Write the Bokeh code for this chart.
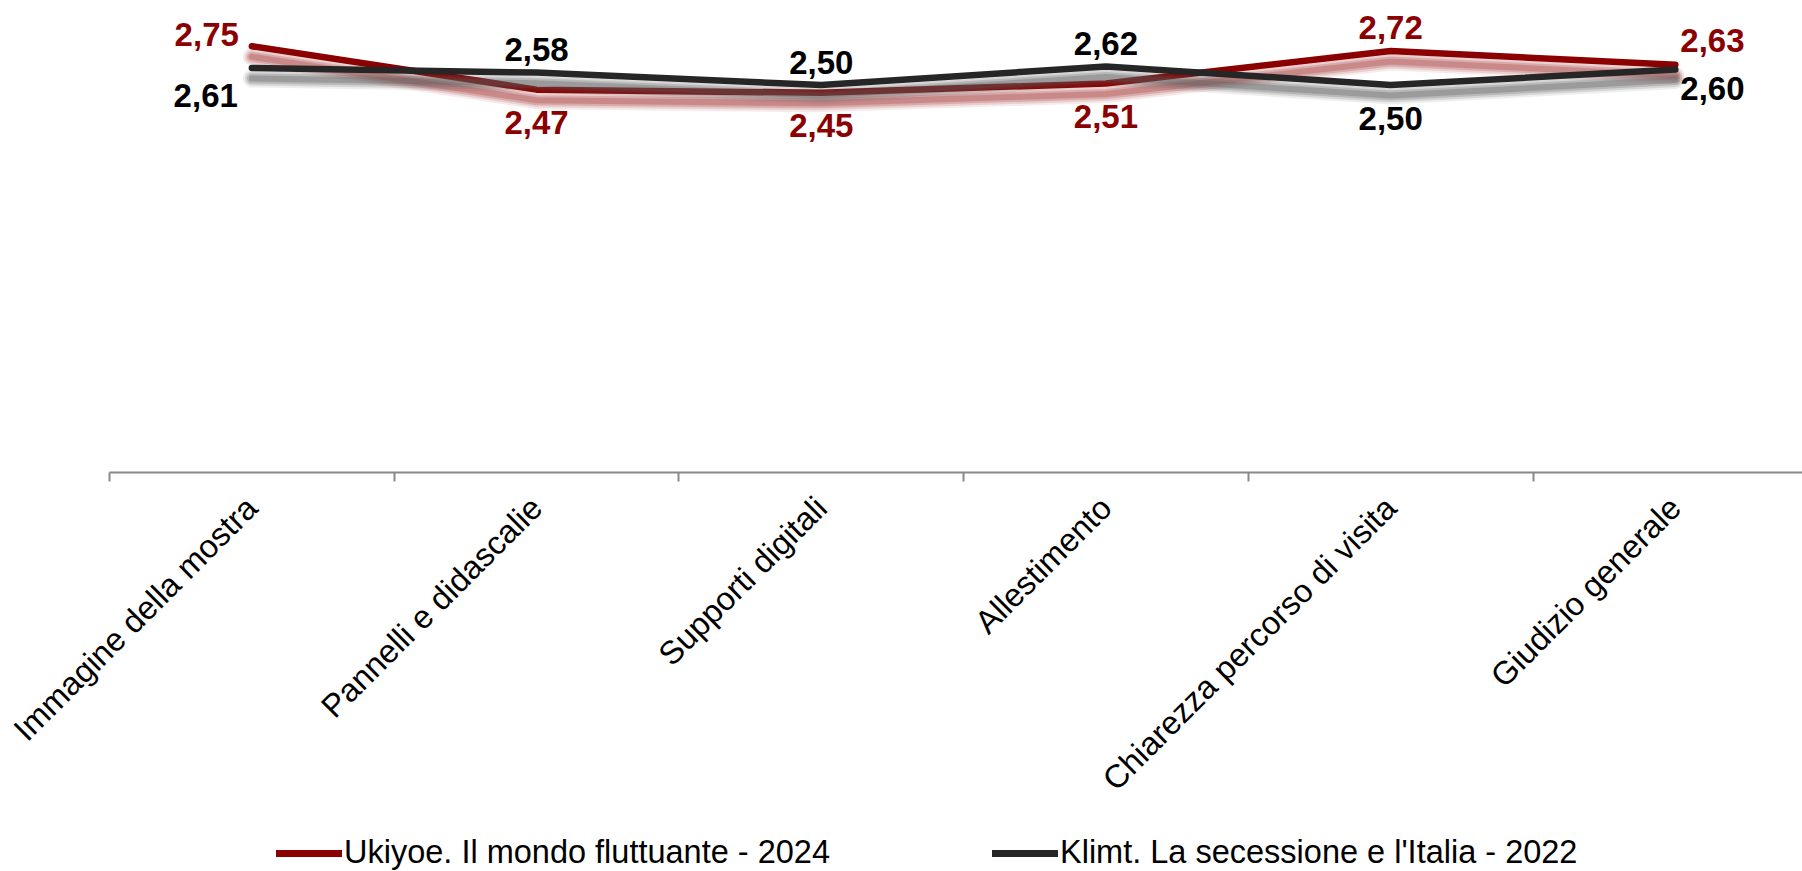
import math
import numpy as np
from bokeh.plotting import figure
from bokeh.layouts import column
from bokeh.models import Range1d, FixedTicker, ColumnDataSource, Legend, LegendItem
from bokeh.core.properties import value
from bokeh.transform import dodge
from bokeh.embed import file_html
from bokeh.resources import INLINE

# ---- data ----
categories = ["Immagine della mostra", "Pannelli e didascalie", "Supporti digitali",
              "Allestimento", "Chiarezza percorso di visita", "Giudizio generale"]
ukiyoe_2024 = [2.75, 2.47, 2.45, 2.51, 2.72, 2.63]
klimt_2022 = [2.61, 2.58, 2.50, 2.62, 2.50, 2.60]
series_names = ["Ukiyoe. Il mondo fluttuante - 2024", "Klimt. La secessione e l'Italia - 2022"]
ukiyoe_label_pos = ["left_above", "below", "below", "below", "above", "right_above"]
klimt_label_pos = ["left_below", "above", "above", "above", "below", "right_below"]

RED = "#8B0000"
DARK = "#262626"
FONT = "Liberation Sans"

# label placement styles (pixel offsets, screen y down)
POS = {
    "left_above": (-13, -12, "right"),
    "left_below": (-14, 28, "right"),
    "above": (0, -23, "center"),
    "below": (0, 33, "center"),
    "right_above": (5, -24, "left"),
    "right_below": (5, 19, "left"),
}

W, H = 1802, 871
LEG_H = 40
LEFT = 109
FRAME_H = 472
CAT_PX = 284.7
PX_PER_UNIT = 155.0
MAIN_H = H - LEG_H

xs = [i + 0.5 for i in range(len(categories))]

p = figure(width=W, height=MAIN_H,
           x_range=Range1d(0, (W - LEFT) / CAT_PX), y_range=Range1d(0, FRAME_H / PX_PER_UNIT),
           y_axis_location=None, toolbar_location=None, output_backend="svg",
           min_border_left=LEFT, min_border_right=0, min_border_top=0,
           min_border_bottom=MAIN_H - FRAME_H)
p.xgrid.visible = False
p.ygrid.visible = False
p.outline_line_color = None
p.background_fill_color = "white"
p.border_fill_color = "white"

def add_series(vals, color, shadow_color, positions, text_color):
    src = ColumnDataSource(dict(x=xs, y=vals))
    for w, a in [(18, 0.10), (14, 0.16), (10, 0.24), (6, 0.30)]:
        p.line(x="x", y=dodge("y", -0.068, range=p.y_range), source=src,
               line_color=shadow_color, line_width=w, line_alpha=a,
               line_cap="round", line_join="round")
    p.line(x="x", y="y", source=src, line_color=color, line_width=6.5,
           line_cap="round", line_join="round")
    lab = ColumnDataSource(dict(
        x=xs, y=vals,
        text=[f"{v:.2f}".replace(".", ",") for v in vals],
        xo=[POS[k][0] for k in positions],
        yo=[POS[k][1] for k in positions],
        al=[POS[k][2] for k in positions],
    ))
    p.text(x="x", y="y", text="text", source=lab, x_offset="xo", y_offset="yo",
           text_align="al", text_baseline="middle", text_color=text_color,
           text_font=value(FONT), text_font_style="bold", text_font_size="33px")

add_series(ukiyoe_2024, RED, "#a83c3c", ukiyoe_label_pos, RED)
add_series(klimt_2022, DARK, "#5a5a5a", klimt_label_pos, "black")

ax = p.xaxis[0]
ax.ticker = FixedTicker(ticks=xs, minor_ticks=list(range(len(categories))))
ax.major_label_overrides = {x: c for x, c in zip(xs, categories)}
ax.major_tick_line_color = None
ax.major_tick_out = 0
ax.major_tick_in = 0
ax.minor_tick_line_color = "#898989"
ax.minor_tick_line_width = 2
ax.minor_tick_out = 9
ax.minor_tick_in = 0
ax.axis_line_color = "#898989"
ax.axis_line_width = 2
ax.major_label_orientation = math.pi / 4
ax.major_label_standoff = 21
ax.major_label_text_font = FONT
ax.major_label_text_font_size = "32.5px"
ax.major_label_text_color = "black"

# ---- legend strip (frame aligned with the main plot) ----
lf = figure(width=W, height=LEG_H, x_range=Range1d(0, 1), y_range=Range1d(0, 1),
            x_axis_location=None, y_axis_location=None, toolbar_location=None,
            output_backend="svg", min_border=0)
lf.xgrid.visible = False
lf.ygrid.visible = False
lf.outline_line_color = None
blank = dict(x=np.array([np.nan, np.nan]), y=np.array([np.nan, np.nan]))
lr1 = lf.line(x="x", y="y", source=ColumnDataSource(blank), line_color=RED, line_width=7, line_cap="round")
lr2 = lf.line(x="x", y="y", source=ColumnDataSource(blank), line_color=DARK, line_width=7, line_cap="round")
legend = Legend(items=[LegendItem(label=series_names[0], renderers=[lr1]),
                       LegendItem(label=series_names[1], renderers=[lr2])],
                orientation="horizontal", location=(167, 0),
                glyph_width=66, glyph_height=30, label_standoff=2, spacing=162,
                padding=0, margin=0, border_line_color=None, background_fill_alpha=0,
                label_text_font=FONT, label_text_font_size="32.5px", label_text_color="black")
lf.add_layout(legend)

open("out.html", "w").write(file_html(column(p, lf, spacing=0), INLINE))
